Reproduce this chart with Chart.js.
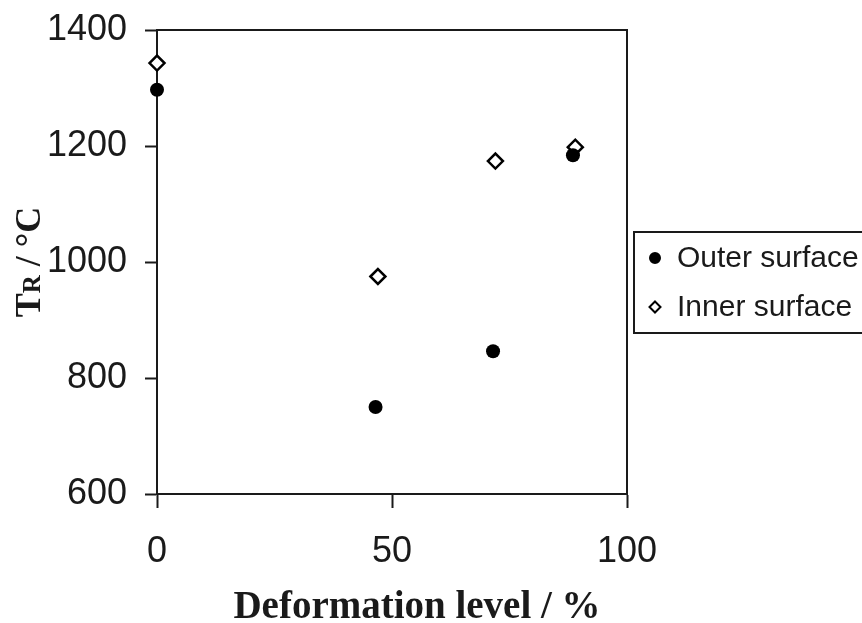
<!DOCTYPE html>
<html>
<head>
<meta charset="utf-8">
<script src="https://cdn.jsdelivr.net/npm/chart.js@4.4.1/dist/chart.umd.min.js"></script>
<style>
    body { margin: 0; background: #fff; }
    canvas { display: block; }
</style>
</head>
<body>
<canvas id="chart" width="862" height="623"></canvas>
<script>
// Data
const seriesNames = ['Outer surface', 'Inner surface'];
const outerX = [0, 46.5, 71.5, 88.5];
const outerY = [1297, 750, 846, 1184];
const innerX = [0, 47, 72, 89];
const innerY = [1343, 975, 1174, 1198];
const xTicks = [0, 50, 100];
const yTicks = [600, 800, 1000, 1200, 1400];

const ink = '#1a1a1a';

function toPoints(xs, ys) {
    return xs.map((x, i) => ({ x: x, y: ys[i] }));
}

// frame on top/right, axis titles and boxed legend
const extras = {
    id: 'extras',
    afterDraw(chart) {
        const ctx = chart.ctx;
        const a = chart.chartArea;
        ctx.save();
        ctx.strokeStyle = ink;
        ctx.lineWidth = 2;
        ctx.beginPath();
        ctx.moveTo(a.left, a.top);
        ctx.lineTo(a.right, a.top);
        ctx.lineTo(a.right, a.bottom);
        ctx.stroke();

        // x title
        ctx.fillStyle = ink;
        ctx.font = 'bold 39px "Liberation Serif"';
        ctx.textAlign = 'center';
        ctx.textBaseline = 'alphabetic';
        ctx.fillText('Deformation level / %', 417, 618);

        // y title: T with small R, rotated
        ctx.save();
        ctx.translate(40, 262);
        ctx.rotate(-Math.PI / 2);
        ctx.textAlign = 'left';
        const big = 'bold 36px "Liberation Serif"';
        const small = 'bold 25px "Liberation Serif"';
        ctx.font = big;
        const wT = ctx.measureText('T').width;
        const wRest = ctx.measureText(' / °C').width;
        ctx.font = small;
        const wR = ctx.measureText('R').width;
        let x0 = -(wT + wR + wRest) / 2;
        ctx.font = big;
        ctx.fillText('T', x0, 0);
        ctx.font = small;
        ctx.fillText('R', x0 + wT, 0);
        ctx.font = big;
        ctx.fillText(' / °C', x0 + wT + wR, 0);
        ctx.restore();

        // legend box
        ctx.lineWidth = 2;
        ctx.strokeRect(634, 232, 240, 101);
        ctx.font = '30px "Liberation Sans"';
        ctx.textAlign = 'left';
        ctx.textBaseline = 'middle';
        chart.data.datasets.forEach((ds, i) => {
            const y = 258 + i * 49;
            ctx.fillStyle = ds.backgroundColor;
            ctx.strokeStyle = ds.borderColor;
            ctx.lineWidth = 2;
            ctx.beginPath();
            if (ds.pointStyle === 'circle') {
                ctx.arc(655, y, 5, 0, Math.PI * 2);
            } else {
                ctx.moveTo(655, y - 5.5);
                ctx.lineTo(660.5, y);
                ctx.lineTo(655, y + 5.5);
                ctx.lineTo(649.5, y);
                ctx.closePath();
            }
            ctx.fill();
            ctx.stroke();
            ctx.fillStyle = ink;
            ctx.fillText(ds.label, 677, y + 1);
        });
        ctx.restore();
    }
};

new Chart(document.getElementById('chart'), {
    type: 'scatter',
    data: {
        datasets: [
            {
                label: seriesNames[0],
                data: toPoints(outerX, outerY),
                pointStyle: 'circle',
                pointRadius: 7,
                backgroundColor: '#000',
                borderColor: '#000',
                borderWidth: 0,
                clip: false
            },
            {
                label: seriesNames[1],
                data: toPoints(innerX, innerY),
                pointStyle: 'rectRot',
                pointRadius: 7.5,
                backgroundColor: '#fff',
                borderColor: '#000',
                borderWidth: 2.5,
                clip: false
            }
        ]
    },
    options: {
        responsive: false,
        devicePixelRatio: 1,
        animation: false,
        layout: { padding: { top: 30, right: 235, left: 0, bottom: 0 } },
        plugins: {
            legend: { display: false },
            tooltip: { enabled: false }
        },
        scales: {
            x: {
                type: 'linear',
                min: 0,
                max: 100,
                afterBuildTicks: (scale) => { scale.ticks = xTicks.map(v => ({ value: v })); },
                afterFit: (scale) => {
                    scale.height = 129;
                    scale.paddingLeft = 0;
                    scale.paddingRight = 0;
                },
                grid: {
                    drawOnChartArea: false,
                    tickLength: 14,
                    tickWidth: 2,
                    tickColor: ink
                },
                border: { color: ink, width: 2 },
                ticks: {
                    padding: 22,
                    color: ink,
                    font: { family: '"Liberation Sans"', size: 36 },
                    callback: (v) => String(v)
                }
            },
            y: {
                type: 'linear',
                min: 600,
                max: 1400,
                afterBuildTicks: (scale) => { scale.ticks = yTicks.map(v => ({ value: v })); },
                afterFit: (scale) => {
                    scale.width = 157;
                    scale.paddingTop = 0;
                    scale.paddingBottom = 0;
                },
                grid: {
                    drawOnChartArea: false,
                    tickLength: 12,
                    tickWidth: 2,
                    tickColor: ink
                },
                border: { color: ink, width: 2 },
                ticks: {
                    padding: 18,
                    color: ink,
                    font: { family: '"Liberation Sans"', size: 36 },
                    callback: (v) => String(v)
                }
            }
        }
    },
    plugins: [extras]
});
</script>
</body>
</html>
